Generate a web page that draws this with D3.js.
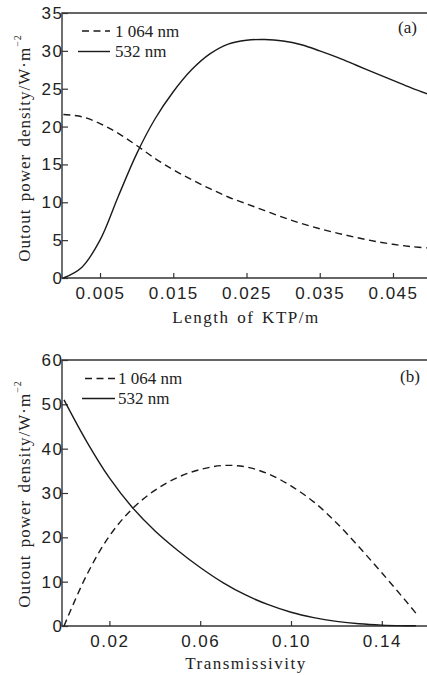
<!DOCTYPE html>
<html>
<head>
<meta charset="utf-8">
<script src="https://cdn.jsdelivr.net/npm/d3@7"></script>
<style>
  body { margin: 0; background: #fff; }
  svg { display: block; font-family: "Liberation Serif", "Times New Roman", serif; }
  .tick text { font-size: 17px; letter-spacing: 1.5px; fill: #222; }
  .tick line { stroke: #333; stroke-width: 1.2px; }
  .frame { stroke: #333; stroke-width: 1.4px; fill: none; }
  .curve { fill: none; stroke: #1a1a1a; stroke-width: 1.4px; }
  .dash { stroke-dasharray: 7, 4.5; }
  .title { font-size: 17px; letter-spacing: 1px; word-spacing: 2px; fill: #222; }
  .leg { font-size: 17px; fill: #222; }
</style>
</head>
<body>
<div id="chart"></div>
<script>
// panel (a): output power density vs KTP length
var lenKTP = [0, 0.0025, 0.005, 0.0075, 0.01, 0.0125, 0.015, 0.0175, 0.02, 0.0225, 0.025,
              0.0275, 0.03, 0.0325, 0.035, 0.0375, 0.04, 0.0425, 0.045, 0.0475, 0.05];
var a532  = [0, 1.4, 5.0, 10.8, 16.4, 21.0, 24.6, 27.5, 29.6, 30.9, 31.4,
             31.5, 31.3, 30.8, 30.0, 29.1, 28.1, 27.1, 26.1, 25.1, 24.2];
var a1064 = [21.6, 21.3, 20.4, 19.1, 17.5, 15.8, 14.3, 13.0, 11.8, 10.7, 9.8,
             8.9, 8.0, 7.2, 6.5, 5.9, 5.35, 4.85, 4.45, 4.15, 3.95];
var ticksA = [0.005, 0.015, 0.025, 0.035, 0.045];

// panel (b): output power density vs transmissivity
var trans = [0, 0.01, 0.02, 0.03, 0.04, 0.05, 0.06, 0.07, 0.08, 0.09,
             0.10, 0.11, 0.12, 0.13, 0.14, 0.15, 0.155];
var b1064 = [0, 11.5, 20.3, 26.4, 30.6, 33.5, 35.3, 36.2, 35.9, 34.3,
             31.6, 28.0, 23.3, 17.8, 12.0, 6.0, 2.9];
var b532  = [51.0, 41.6, 33.4, 26.8, 21.5, 17.1, 13.2, 9.8, 7.0, 4.8,
             3.1, 1.9, 1.05, 0.5, 0.2, 0.07, 0.04];
var ticksB = [0.02, 0.06, 0.10, 0.14];

var width = 427, height = 676;

var svg = d3.select("#chart").append("svg")
  .attr("width", width)
  .attr("height", height);

function panel(cfg) {
  var g = svg.append("g");
  var x = cfg.x, y = cfg.y;
  var top = y.range()[1], bottom = y.range()[0], left = 62, right = width;

  // frame: left, bottom, top
  g.append("path").attr("class", "frame")
    .attr("d", "M" + right + "," + top + "H" + left + "V" + bottom + "H" + right);

  var xAxis = d3.axisBottom(x).tickValues(cfg.xticks).tickFormat(cfg.xfmt)
    .tickSizeInner(-5).tickSizeOuter(0).tickPadding(9);
  var gx = g.append("g").attr("transform", "translate(0," + bottom + ")").call(xAxis);
  gx.select(".domain").remove();

  var yAxis = d3.axisLeft(y).tickValues(cfg.yticks).tickFormat(d3.format("d"))
    .tickSizeInner(-6).tickSizeOuter(0).tickPadding(-1.5);
  var gy = g.append("g").attr("transform", "translate(" + left + ",0)").call(yAxis);
  gy.select(".domain").remove();

  var line = d3.line()
    .x(function(d) { return x(d[0]); })
    .y(function(d) { return y(d[1]); })
    .curve(d3.curveCatmullRom.alpha(0.5));

  g.append("path").attr("class", "curve dash")
    .datum(cfg.xs.map(function(v, i) { return [v, cfg.s1064[i]]; }))
    .attr("d", line);
  g.append("path").attr("class", "curve")
    .datum(cfg.xs.map(function(v, i) { return [v, cfg.s532[i]]; }))
    .attr("d", line);

  // legend
  var L = cfg.legend;
  g.append("line").attr("class", "curve dash")
    .attr("x1", L.x1d).attr("x2", L.x2).attr("y1", L.y1).attr("y2", L.y1);
  g.append("text").attr("class", "leg").attr("x", L.tx).attr("y", L.y1 + 5.5).text("1 064 nm");
  g.append("line").attr("class", "curve")
    .attr("x1", L.x1s).attr("x2", L.x2).attr("y1", L.y2).attr("y2", L.y2);
  g.append("text").attr("class", "leg").attr("x", L.tx).attr("y", L.y2 + 5.5).text("532 nm");

  g.append("text").attr("class", "leg")
    .attr("x", cfg.tag[0]).attr("y", cfg.tag[1]).text(cfg.tagText);

  // axis titles
  g.append("text").attr("class", "title")
    .attr("x", 246).attr("y", cfg.xtitleY)
    .attr("text-anchor", "middle")
    .style("letter-spacing", "1.5px")
    .text(cfg.xtitle);

  var yt = g.append("text").attr("class", "title")
    .attr("transform", "translate(29.5," + cfg.ytitleC + ") rotate(-90)")
    .attr("text-anchor", "middle");
  yt.append("tspan").text("Outout power density/W\u00b7m");
  yt.append("tspan").attr("dy", -9).style("font-size", "10px").text("\u22122");
}

panel({
  x: d3.scaleLinear().domain([0, 0.05]).range([63.4, 429.6]),
  y: d3.scaleLinear().domain([0, 35]).range([278, 13]),
  xs: lenKTP, s532: a532, s1064: a1064,
  xticks: ticksA, xfmt: d3.format(".3f"),
  yticks: [0, 5, 10, 15, 20, 25, 30, 35],
  legend: { x1d: 82, x1s: 78, x2: 110, tx: 115, y1: 31, y2: 51.5 },
  tag: [398, 33], tagText: "(a)",
  xtitle: "Length of KTP/m", xtitleY: 323,
  ytitleC: 148
});

panel({
  x: d3.scaleLinear().domain([0, 0.16]).range([64, 427.2]),
  y: d3.scaleLinear().domain([0, 60]).range([626, 360]),
  xs: trans, s532: b532, s1064: b1064,
  xticks: ticksB, xfmt: d3.format(".2f"),
  yticks: [0, 10, 20, 30, 40, 50, 60],
  legend: { x1d: 85, x1s: 82, x2: 115, tx: 118, y1: 378.5, y2: 398.5 },
  tag: [400, 382], tagText: "(b)",
  xtitle: "Transmissivity", xtitleY: 669,
  ytitleC: 494
});
</script>
</body>
</html>
